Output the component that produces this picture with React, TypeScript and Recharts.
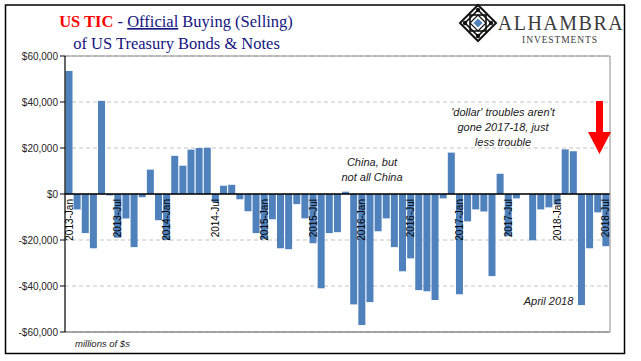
import React from 'react';
import { BarChart, Bar, XAxis, YAxis, CartesianGrid, ReferenceLine, ReferenceDot } from 'recharts';

const months = [
  '2013-Jan', '2013-Feb', '2013-Mar', '2013-Apr', '2013-May', '2013-Jun', '2013-Jul', '2013-Aug', '2013-Sep', '2013-Oct', '2013-Nov', '2013-Dec',
  '2014-Jan', '2014-Feb', '2014-Mar', '2014-Apr', '2014-May', '2014-Jun', '2014-Jul', '2014-Aug', '2014-Sep', '2014-Oct', '2014-Nov', '2014-Dec',
  '2015-Jan', '2015-Feb', '2015-Mar', '2015-Apr', '2015-May', '2015-Jun', '2015-Jul', '2015-Aug', '2015-Sep', '2015-Oct', '2015-Nov', '2015-Dec',
  '2016-Jan', '2016-Feb', '2016-Mar', '2016-Apr', '2016-May', '2016-Jun', '2016-Jul', '2016-Aug', '2016-Sep', '2016-Oct', '2016-Nov', '2016-Dec',
  '2017-Jan', '2017-Feb', '2017-Mar', '2017-Apr', '2017-May', '2017-Jun', '2017-Jul', '2017-Aug', '2017-Sep', '2017-Oct', '2017-Nov', '2017-Dec',
  '2018-Jan', '2018-Feb', '2018-Mar', '2018-Apr', '2018-May', '2018-Jun', '2018-Jul',
];

// millions of $, official buying (+) / selling (-)
const flows = [
  53500, -6700, -17000, -23600, 40500, -600, -19000, -10600, -23100, -1400, 10600, -11400,
  -20000, 16600, 12300, 19300, 20000, 20100, -3500, 3600, 4000, -2300, -7500, -17000,
  -19600, -11000, -23600, -24000, -4400, -10600, -21400, -41000, -17000, -16600, 1000, -48000,
  -57000, -47000, -16200, -10600, -23100, -33600, -28000, -41800, -42300, -46100, -1900, 18000,
  -43600, -11900, -6700, -7600, -35700, 8800, -18300, -1900, 0, -20100, -6700, -5800,
  -4600, 19400, 18600, -48300, -23600, -8000, -22700,
];

const tickLabels = [
  '2013-Jan', '2013-Jul', '2014-Jan', '2014-Jul', '2015-Jan', '2015-Jul',
  '2016-Jan', '2016-Jul', '2017-Jan', '2017-Jul', '2018-Jan', '2018-Jul',
];

const yTicks = [-60000, -40000, -20000, 0, 20000, 40000, 60000];

const data = months.map((m, i) => ({ month: m, flow: flows[i] }));

const SANS = '"Liberation Sans", Arial, sans-serif';
const SERIF = '"Liberation Serif", "Times New Roman", serif';

const fmtDollar = (v: number) => (v < 0 ? '-' : '') + '$' + Math.abs(v).toLocaleString('en-US');

const MonthTick = (props: any) => {
  const { cx, cy, text } = props;
  const y = cy + 5;
  return (
    <text
      x={cx}
      y={y}
      transform={`rotate(-90 ${cx} ${y})`}
      textAnchor="end"
      dominantBaseline="central"
      fontSize={10}
      fontFamily={SANS}
      fill="#000"
    >
      {text}
    </text>
  );
};

const Logo = () => {
  const cx = 478;
  const cy = 23;
  const d = (r: number) => `M${cx} ${cy - r} L${cx + r} ${cy} L${cx} ${cy + r} L${cx - r} ${cy} Z`;
  return (
    <g>
      <path d={d(18)} fill="none" stroke="#111" strokeWidth={2} />
      <path d={d(13)} fill="none" stroke="#111" strokeWidth={1.6} />
      <rect x={cx - 8} y={cy - 8} width={16} height={16} fill="none" stroke="#111" strokeWidth={1.6} />
      <path d={d(8)} fill="none" stroke="#111" strokeWidth={1.2} />
      <path d={d(4.5)} fill="#4f81bd" />
      {[[0, -13], [13, 0], [0, 13], [-13, 0]].map(([dx, dy], i) => (
        <circle key={i} cx={cx + dx} cy={cy + dy} r={2.2} fill="#111" />
      ))}
      <text x={561} y={29.5} textAnchor="middle" fontFamily={SERIF} fontSize={20} letterSpacing={1.5} fill="#3c3c3c">
        ALHAMBRA
      </text>
      <text x={560} y={42.5} textAnchor="middle" fontFamily={SERIF} fontSize={9.5} letterSpacing={0.9} fill="#3c3c3c">
        INVESTMENTS
      </text>
    </g>
  );
};

export default function App() {
  return (
    <div style={{ position: 'absolute', left: 0, top: 0, width: 641, height: 361, background: '#fff' }}>
      <BarChart
        width={641}
        height={361}
        data={data}
        margin={{ top: 56, right: 30, bottom: 29, left: 0 }}
        barCategoryGap={0.5}
      >
        <CartesianGrid vertical={false} stroke="#c4c4c4" strokeDasharray="4 3" />
        <XAxis dataKey="month" hide />
        <YAxis
          domain={[-60000, 60000]}
          ticks={yTicks}
          tickFormatter={fmtDollar}
          width={65}
          interval={0}
          axisLine={{ stroke: '#000', strokeWidth: 1.2 }}
          tickLine={{ stroke: '#000' }}
          tickSize={5}
          tickMargin={2}
          tick={{ fontSize: 10, fontFamily: SANS, fill: '#262626' }}
        />
        <YAxis
          yAxisId="right"
          orientation="right"
          domain={[-60000, 60000]}
          width={1}
          tick={false}
          tickLine={false}
          axisLine={{ stroke: '#8a8a8a' }}
        />
        <ReferenceLine y={60000} stroke="#8a8a8a" />
        <ReferenceLine y={-60000} stroke="#8a8a8a" strokeWidth={1.5} />
        <Bar dataKey="flow" fill="#4f81bd" isAnimationActive={false} />
        <ReferenceLine y={0} stroke="#000" strokeWidth={1.5} />
        {tickLabels.map((t) => (
          <ReferenceDot
            key={t}
            x={t}
            y={0}
            r={0}
            ifOverflow="visible"
            shape={(p: any) => <MonthTick {...p} text={t} />}
          />
        ))}
      </BarChart>
      <svg
        width={641}
        height={361}
        style={{ position: 'absolute', left: 0, top: 0, pointerEvents: 'none' }}
      >
        <rect x={5.5} y={5} width={619} height={348.5} fill="none" stroke="#000" strokeWidth={1.5} />
        <text x={176} y={27} textAnchor="middle" fontFamily={SERIF} fontSize={16.5} fill="#141480">
          <tspan fill="#ff0000" fontWeight="bold">US TIC</tspan>
          <tspan>{' - '}</tspan>
          <tspan style={{ textDecoration: 'underline' }}>Official</tspan>
          <tspan>{' Buying (Selling)'}</tspan>
        </text>
        <text x={176.5} y={48.5} textAnchor="middle" fontFamily={SERIF} fontSize={16.5} fill="#141480">
          of US Treasury Bonds &amp; Notes
        </text>
        <Logo />
        <g fontFamily={SANS} fontStyle="italic" fontSize={11} fill="#1a1a1a" textAnchor="middle">
          <text x={372} y={166}>China, but</text>
          <text x={372} y={181}>not all China</text>
          <text x={503} y={116}>'dollar' troubles aren't</text>
          <text x={503} y={131}>gone 2017-18, just</text>
          <text x={503} y={146}>less trouble</text>
          <text x={548.5} y={304.5}>April 2018</text>
        </g>
        <text x={75} y={347} fontFamily={SANS} fontStyle="italic" fontSize={9.5} fill="#222">
          millions of $s
        </text>
        <path d="M596 101 L603 101 L603 132 L611 132 L599.5 154 L588 132 L596 132 Z" fill="#ff0000" />
      </svg>
    </div>
  );
}
